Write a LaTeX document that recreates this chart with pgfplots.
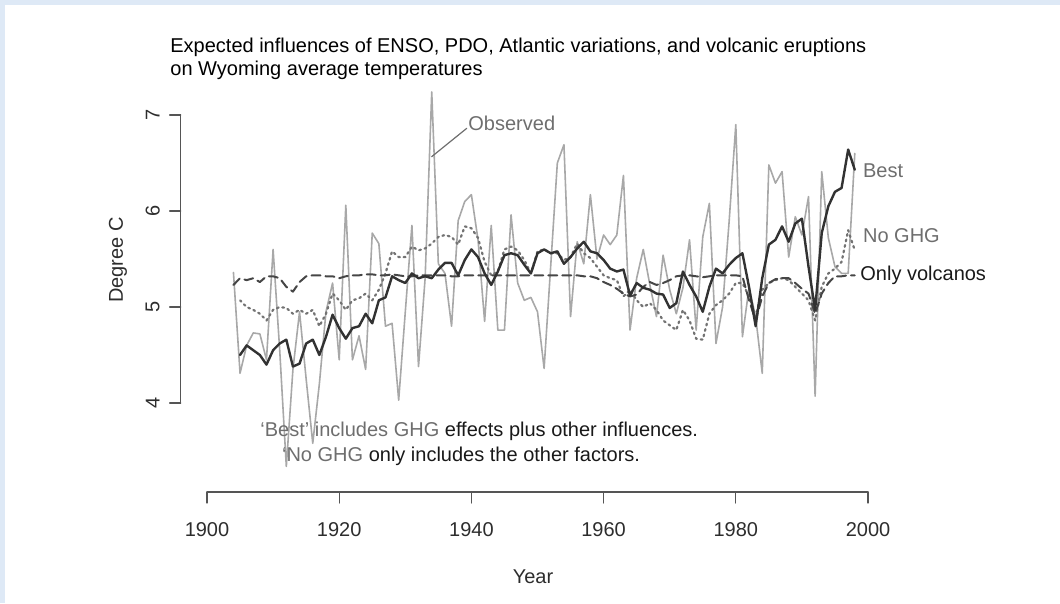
\documentclass[border=0pt]{standalone}
\usepackage{fontspec}
\setmainfont{Liberation Sans}
\usepackage{pgfplots}
\pgfplotsset{compat=1.18}
\usepackage{pgfplotstable}
\definecolor{frameblue}{RGB}{222,233,246}
\definecolor{obsgray}{RGB}{168,168,168}
\definecolor{bestdark}{RGB}{50,50,50}
\definecolor{noghg}{RGB}{115,115,115}
\definecolor{volc}{RGB}{70,70,70}
\definecolor{axisgray}{RGB}{85,85,85}
\definecolor{labelgray}{RGB}{45,45,45}
\definecolor{annogray}{RGB}{110,110,110}
\definecolor{annodark}{RGB}{25,25,25}

\pgfplotstableread{
year t
1904 5.36
1905 4.31
1906 4.60
1907 4.73
1908 4.72
1909 4.45
1910 5.60
1911 4.55
1912 3.34
1913 4.35
1914 4.95
1915 4.25
1916 3.58
1917 4.20
1918 4.95
1919 5.25
1920 4.45
1921 6.06
1922 4.45
1923 4.70
1924 4.35
1925 5.77
1926 5.66
1927 4.80
1928 4.83
1929 4.03
1930 4.95
1931 5.85
1932 4.38
1933 5.30
1934 7.24
1935 5.45
1936 5.35
1937 4.80
1938 5.90
1939 6.10
1940 6.17
1941 5.70
1942 4.85
1943 5.85
1944 4.76
1945 4.76
1946 5.96
1947 5.25
1948 5.07
1949 5.10
1950 4.95
1951 4.36
1952 5.43
1953 6.50
1954 6.69
1955 4.90
1956 5.68
1957 5.45
1958 6.17
1959 5.50
1960 5.75
1961 5.65
1962 5.75
1963 6.37
1964 4.76
1965 5.30
1966 5.60
1967 5.23
1968 4.90
1969 5.54
1970 5.18
1971 4.93
1972 5.20
1973 5.70
1974 4.76
1975 5.73
1976 6.08
1977 4.62
1978 5.00
1979 5.90
1980 6.90
1981 4.69
1982 5.20
1983 4.90
1984 4.31
1985 6.48
1986 6.29
1987 6.41
1988 5.52
1989 5.94
1990 5.75
1991 6.15
1992 4.07
1993 6.41
1994 5.72
1995 5.42
1996 5.35
1997 5.35
1998 6.60
}\observed

\pgfplotstableread{
year t
1905 4.50
1906 4.60
1907 4.55
1908 4.50
1909 4.40
1910 4.55
1911 4.62
1912 4.66
1913 4.38
1914 4.41
1915 4.62
1916 4.66
1917 4.50
1918 4.69
1919 4.92
1920 4.78
1921 4.67
1922 4.78
1923 4.80
1924 4.93
1925 4.83
1926 5.07
1927 5.10
1928 5.32
1929 5.28
1930 5.25
1931 5.35
1932 5.30
1933 5.32
1934 5.30
1935 5.39
1936 5.46
1937 5.46
1938 5.33
1939 5.49
1940 5.60
1941 5.52
1942 5.35
1943 5.23
1944 5.37
1945 5.54
1946 5.56
1947 5.54
1948 5.44
1949 5.35
1950 5.56
1951 5.60
1952 5.56
1953 5.58
1954 5.45
1955 5.52
1956 5.61
1957 5.68
1958 5.58
1959 5.56
1960 5.49
1961 5.40
1962 5.37
1963 5.39
1964 5.12
1965 5.25
1966 5.20
1967 5.18
1968 5.14
1969 5.13
1970 4.99
1971 5.04
1972 5.37
1973 5.23
1974 5.11
1975 4.95
1976 5.21
1977 5.40
1978 5.35
1979 5.44
1980 5.51
1981 5.56
1982 5.21
1983 4.80
1984 5.30
1985 5.65
1986 5.70
1987 5.84
1988 5.68
1989 5.87
1990 5.92
1991 5.42
1992 4.97
1993 5.77
1994 6.05
1995 6.20
1996 6.24
1997 6.64
1998 6.43
}\best

\pgfplotstableread{
year t
1905 5.07
1906 5.00
1907 4.97
1908 4.93
1909 4.86
1910 4.97
1911 5.00
1912 4.99
1913 4.93
1914 4.97
1915 4.93
1916 4.97
1917 4.80
1918 4.93
1919 5.14
1920 5.07
1921 4.97
1922 5.07
1923 5.09
1924 5.14
1925 5.07
1926 5.18
1927 5.35
1928 5.58
1929 5.52
1930 5.52
1931 5.63
1932 5.59
1933 5.61
1934 5.66
1935 5.73
1936 5.75
1937 5.73
1938 5.65
1939 5.84
1940 5.82
1941 5.72
1942 5.47
1943 5.33
1944 5.37
1945 5.60
1946 5.63
1947 5.59
1948 5.49
1949 5.35
1950 5.58
1951 5.60
1952 5.56
1953 5.56
1954 5.49
1955 5.52
1956 5.66
1957 5.56
1958 5.51
1959 5.42
1960 5.33
1961 5.30
1962 5.28
1963 5.11
1964 5.18
1965 5.07
1966 5.00
1967 5.04
1968 4.97
1969 4.86
1970 4.81
1971 4.76
1972 4.97
1973 4.86
1974 4.67
1975 4.66
1976 4.93
1977 5.02
1978 5.07
1979 5.14
1980 5.25
1981 5.25
1982 5.11
1983 4.90
1984 5.18
1985 5.25
1986 5.28
1987 5.30
1988 5.28
1989 5.21
1990 5.14
1991 5.07
1992 4.86
1993 5.21
1994 5.35
1995 5.40
1996 5.47
1997 5.80
1998 5.59
}\noghg

\pgfplotstableread{
year t
1904 5.23
1905 5.30
1906 5.28
1907 5.30
1908 5.26
1909 5.32
1910 5.32
1911 5.30
1912 5.21
1913 5.16
1914 5.26
1915 5.32
1916 5.33
1917 5.33
1918 5.32
1919 5.32
1920 5.30
1921 5.32
1922 5.33
1923 5.33
1924 5.34
1925 5.34
1926 5.33
1927 5.33
1928 5.34
1929 5.33
1930 5.32
1931 5.32
1932 5.33
1933 5.33
1934 5.33
1935 5.33
1936 5.33
1937 5.32
1938 5.32
1939 5.33
1940 5.33
1941 5.33
1942 5.33
1943 5.33
1944 5.33
1945 5.33
1946 5.33
1947 5.33
1948 5.33
1949 5.33
1950 5.33
1951 5.33
1952 5.33
1953 5.33
1954 5.33
1955 5.33
1956 5.33
1957 5.32
1958 5.32
1959 5.30
1960 5.26
1961 5.23
1962 5.19
1963 5.14
1964 5.11
1965 5.13
1966 5.21
1967 5.26
1968 5.23
1969 5.25
1970 5.28
1971 5.32
1972 5.33
1973 5.33
1974 5.32
1975 5.31
1976 5.32
1977 5.33
1978 5.33
1979 5.33
1980 5.33
1981 5.32
1982 5.07
1983 4.86
1984 5.11
1985 5.25
1986 5.29
1987 5.30
1988 5.30
1989 5.25
1990 5.19
1991 5.14
1992 4.93
1993 5.14
1994 5.25
1995 5.32
1996 5.32
1997 5.33
1998 5.33
}\volc

\begin{document}
\begin{tikzpicture}
\begin{axis}[
  scale only axis, width=350.26pt, height=207.7pt,
  xmin=1896.02, xmax=2002, ymin=3.073, ymax=7.4,
  clip=false,
  axis x line*=bottom, axis y line*=left,
  x axis line style={draw=none}, y axis line style={draw=none},
  xtick={1900,1920,1940,1960,1980,2000}, ytick={4,5,6,7},
  minor tick num=0,
  tick align=outside, major tick length=5.5pt,
  tick style={draw=axisgray, line width=0.6pt},
  /pgf/number format/assume math mode=true,
  ticklabel style={font=\fontsize{10}{12}\selectfont, text=labelgray},
  xticklabel style={/pgf/number format/1000 sep={}, anchor=center, yshift=-13.5pt},
  yticklabel style={anchor=center, xshift=-8.5pt, rotate=90},
  line join=round, line cap=round,
]
\fill[frameblue] (axis cs:1868.684,8.1979) rectangle (axis cs:2029.047,8.1458);
\fill[frameblue] (axis cs:1868.684,8.1979) rectangle (axis cs:1869.440,1.9167);
\coordinate (TL) at (axis cs:1868.684,8.1979);
\coordinate (BR) at (axis cs:2029.047,1.9167);
\draw[axisgray, line width=0.6pt] (axis cs:1900,3.073) -- (axis cs:2000,3.073);
\draw[axisgray, line width=0.6pt] (axis cs:1896.02,4) -- (axis cs:1896.02,7);

\addplot[obsgray, line width=0.8pt, mark=none] table[x=year, y=t] {\observed};
\addplot[noghg, line width=1.1pt, mark=none, dash pattern=on 0.9pt off 1.9pt] table[x=year, y=t] {\noghg};
\addplot[volc, line width=1.0pt, mark=none, dash pattern=on 4.5pt off 2.5pt] table[x=year, y=t] {\volc};
\addplot[bestdark, line width=1.2pt, mark=none] table[x=year, y=t] {\best};

\draw[annogray, line width=0.6pt] (axis cs:1933.99,6.566) -- (axis cs:1939.29,6.861);
\node[anchor=west, inner sep=0pt, text=annogray, font=\fontsize{10}{12}\selectfont] at (axis cs:1939.49,6.917) {Observed};
\node[anchor=west, inner sep=0pt, text=annogray, font=\fontsize{10}{12}\selectfont] at (axis cs:1999.20,6.42) {Best};
\node[anchor=west, inner sep=0pt, text=annogray, font=\fontsize{10}{12}\selectfont] at (axis cs:1999.20,5.743) {No GHG};
\node[anchor=west, inner sep=0pt, text=annodark, font=\fontsize{10}{12}\selectfont] at (axis cs:1998.79,5.326) {Only volcanos};

\node[anchor=west, inner sep=0pt, text=black, font=\fontsize{10}{12}\selectfont] at (axis cs:1894.40,7.708) {Expected influences of ENSO, PDO, Atlantic variations, and volcanic eruptions};
\node[anchor=west, inner sep=0pt, text=black, font=\fontsize{10}{12}\selectfont] at (axis cs:1894.40,7.469) {on Wyoming average temperatures};

\node[anchor=west, inner sep=0pt, font=\fontsize{10}{12}\selectfont] at (axis cs:1908.02,3.701) {\textcolor{annogray}{‘Best’ includes GHG} \textcolor{annodark}{effects plus other influences.}};
\node[anchor=west, inner sep=0pt, font=\fontsize{10}{12}\selectfont] at (axis cs:1911.30,3.448) {\textcolor{annogray}{‘No GHG} \textcolor{annodark}{only includes the other factors.}};

\node[inner sep=0pt, text=labelgray, font=\fontsize{10}{12}\selectfont] at (axis cs:1949.32,2.1875) {Year};
\node[inner sep=0pt, rotate=90, text=labelgray, font=\fontsize{10}{12}\selectfont] at (axis cs:1886.54,5.49) {Degree C};
\end{axis}
\pgfresetboundingbox
\path[use as bounding box] (TL) rectangle (BR);
\end{tikzpicture}
\end{document}
